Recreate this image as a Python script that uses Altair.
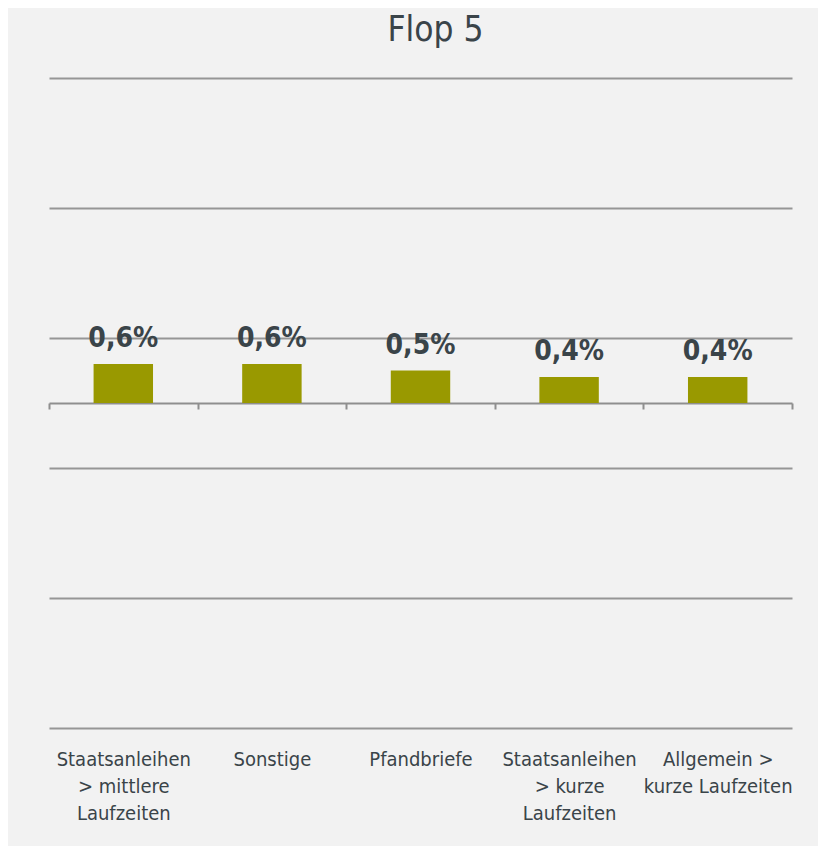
import altair as alt
import pandas as pd

categories = [
    "Staatsanleihen\n> mittlere\nLaufzeiten",
    "Sonstige",
    "Pfandbriefe",
    "Staatsanleihen\n> kurze\nLaufzeiten",
    "Allgemein >\nkurze Laufzeiten",
]
values = [0.6, 0.6, 0.5, 0.4, 0.4]
grid_values = [-5, -3, -1, 1, 3, 5]

df = pd.DataFrame({"cat": categories, "v": values})

FONT = "DejaVu Sans Condensed, Liberation Sans Narrow, sans-serif"
TXT = "#3a4449"

x = alt.X(
    "cat:N",
    sort=None,
    title=None,
    scale=alt.Scale(paddingInner=0, paddingOuter=0),
    axis=alt.Axis(
        offset=-325,
        tickBand="extent",
        tickSize=6,
        tickColor="#8f8f8f",
        tickWidth=2,
        domainColor="#8f8f8f",
        domainWidth=2,
        labelPadding=340,
        labelAngle=0,
        labelFont=FONT,
        labelFontSize=20,
        labelColor=TXT,
        labelLineHeight=27,
        labelExpr="split(datum.label, '\\n')",
        grid=False,
    ),
)
y = alt.Y(
    "v:Q",
    title=None,
    scale=alt.Scale(domain=[-5, 5], nice=False, zero=True),
    axis=alt.Axis(
        values=grid_values,
        labels=False,
        ticks=False,
        domain=False,
        grid=True,
        gridColor="#969696",
        gridWidth=2,
    ),
)

bars = alt.Chart(df).mark_bar(
    color="#999900", width=alt.RelativeBandSize(0.4)
).encode(x=x, y=y)

labels = (
    alt.Chart(df)
    .transform_calculate(
        lab="replace(format(datum.v, '.1f'), '.', ',') + '%'"
    )
    .mark_text(
        font=FONT,
        fontSize=28,
        fontWeight="bold",
        color=TXT,
        baseline="alphabetic",
        dy=-17,
    )
    .encode(x=x, y=y, text="lab:N")
)

chart = (
    alt.layer(bars, labels)
    .properties(
        width=743,
        height=650,
        title=alt.TitleParams(
            "Flop 5",
            font=FONT,
            fontSize=35,
            fontWeight="normal",
            color=TXT,
            offset=30,
            dx=15,
        ),
        autosize=alt.AutoSizeParams(type="none"),
        padding={"left": 41, "top": 70, "right": 26, "bottom": 118},
    )
    .configure(background="#f2f2f2")
    .configure_view(stroke=None)
)

chart.save("out.html", embed_options={"renderer": "svg", "actions": False})
